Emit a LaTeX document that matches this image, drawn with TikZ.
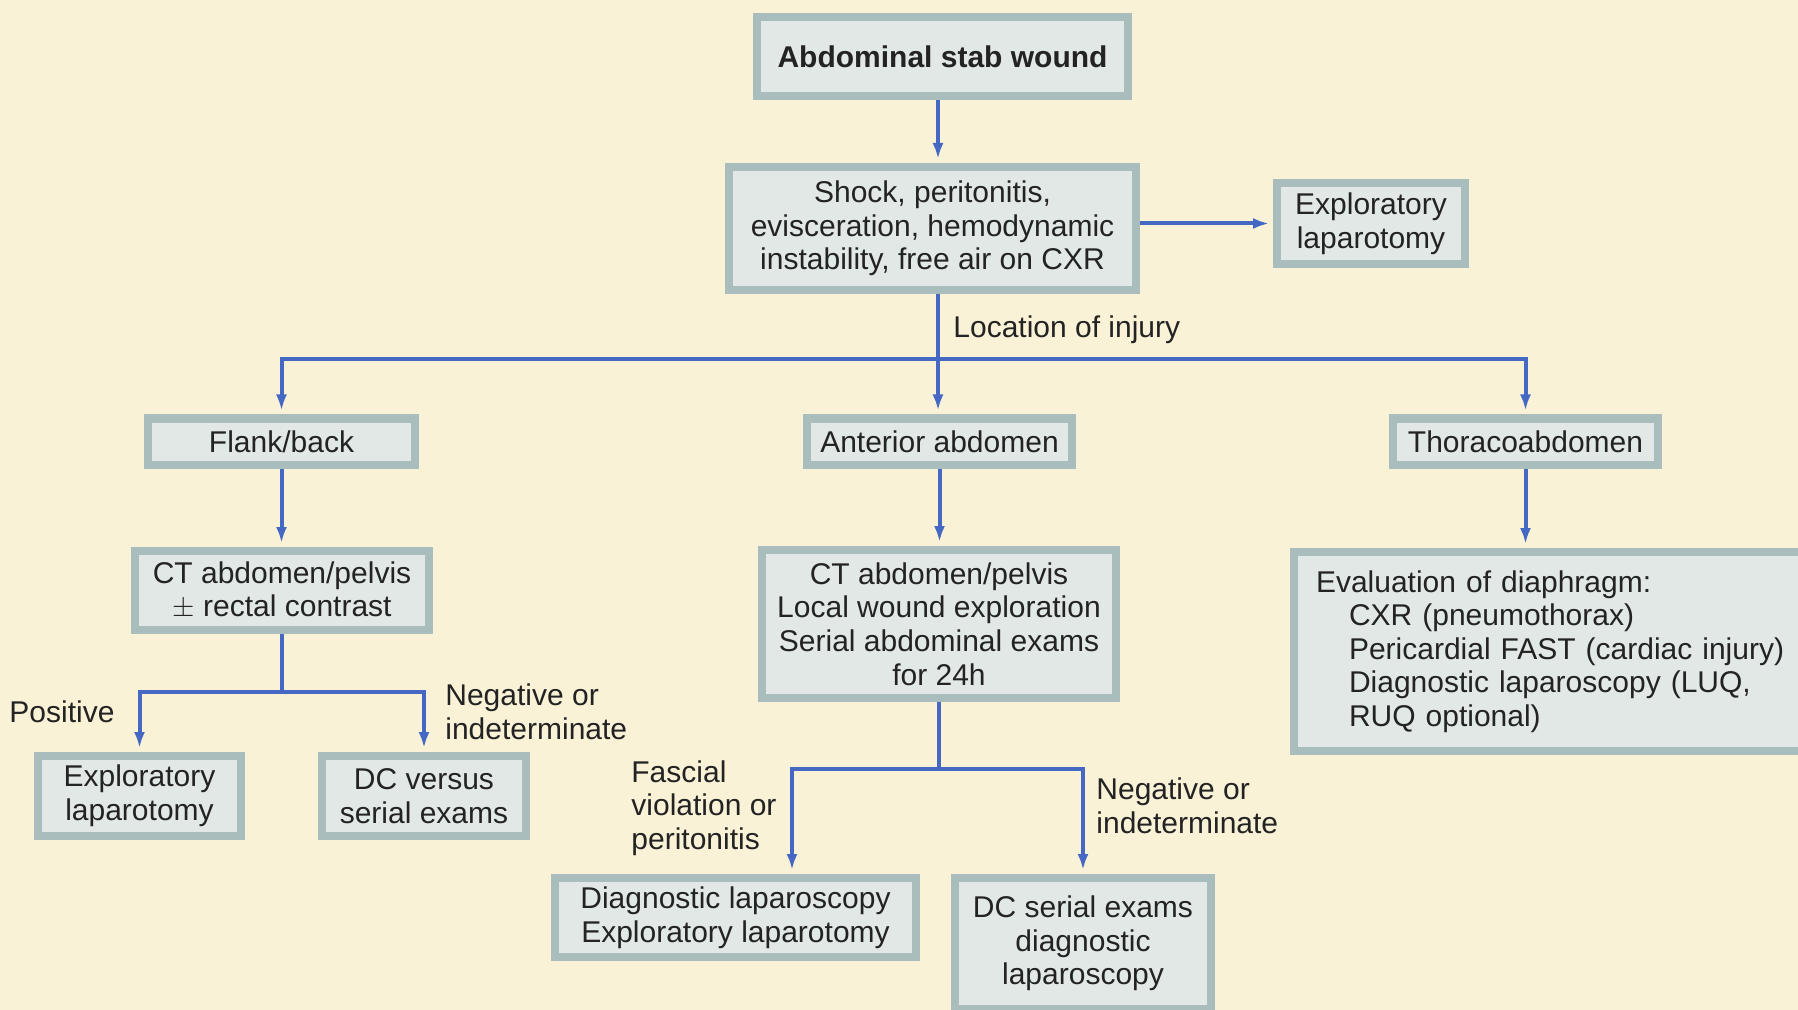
\documentclass[tikz,border=0pt]{standalone}
\usepackage{fontspec}
\setmainfont{Liberation Sans}
\usetikzlibrary{arrows.meta}
\definecolor{paper}{HTML}{FAF2D6}
\definecolor{boxfill}{HTML}{E2E8E6}
\definecolor{boxedge}{HTML}{A9BEBC}
\definecolor{flowblue}{HTML}{4468C4}
\definecolor{ink}{HTML}{232323}
\begin{document}
\begin{tikzpicture}[x=0.5pt,y=-0.5pt,
  font=\fontsize{15}{16.8}\selectfont,
  box/.style={draw=boxedge, line width=4pt, fill=boxfill, text=ink,
    align=center, inner sep=0pt},
  lbl/.style={text=ink, align=left, inner sep=0pt, anchor=west},
  link/.style={draw=flowblue, line width=2pt},
  flow/.style={link, -{Latex[length=8pt,width=5.5pt]}, shorten >=2pt}]

% page and background
\useasboundingbox (0,0) rectangle (1798,1010);
\fill[paper] (0,0) rectangle (1798,1010);

% boxes
\node[box, minimum width=185.5pt, minimum height=39.5pt, font=\fontsize{15}{16.8}\selectfont\bfseries]
  (top) at (942.5,56.5) {Abdominal stab wound};
\node[box, minimum width=203.5pt, minimum height=61.5pt]
  (shock) at (932.5,228.5) {Shock, peritonitis,\\evisceration, hemodynamic\\instability, free air on CXR};
\node[box, minimum width=94pt, minimum height=40.5pt]
  (exlapR) at (1371,223.5) {Exploratory\\laparotomy};

\node[box, minimum width=133.5pt, minimum height=23pt]
  (flank) at (281.5,441.5) {Flank/back};
\node[box, minimum width=132.5pt, minimum height=23pt]
  (anterior) at (939.5,441.5) {Anterior abdomen};
\node[box, minimum width=132.5pt, minimum height=23pt]
  (thoraco) at (1525.5,441.5) {Thoracoabdomen};

\node[box, minimum width=147pt, minimum height=39.5pt]
  (ctflank) at (282,590.5) {CT abdomen/pelvis\\$\pm$ rectal contrast};
\node[box, minimum width=177pt, minimum height=74pt]
  (ctant) at (939,624) {CT abdomen/pelvis\\Local wound exploration\\Serial abdominal exams\\for 24h};
\node[box, anchor=west, text width=240pt, inner xsep=11pt, minimum height=99.5pt, align=left]
  (eval) at (1290,651.5) {Evaluation of diaphragm:\\
    \hspace*{16.5pt}CXR (pneumothorax)\\
    \hspace*{16.5pt}Pericardial FAST (cardiac injury)\\
    \hspace*{16.5pt}Diagnostic laparoscopy (LUQ,\\
    \hspace*{16.5pt}RUQ optional)};

\node[box, minimum width=101.5pt, minimum height=40pt]
  (exlapL) at (139.5,796) {Exploratory\\laparotomy};
\node[box, minimum width=102pt, minimum height=40pt]
  (dcvs) at (424,796) {DC versus\\serial exams};

\node[box, minimum width=180.5pt, minimum height=39.5pt]
  (diaglap) at (735.5,917.5) {Diagnostic laparoscopy\\Exploratory laparotomy};
\node[box, minimum width=128pt, minimum height=65.5pt]
  (dcserial) at (1083,943.5) {DC serial exams\\diagnostic\\laparoscopy};

% labels
\node[lbl] (loc) at (953,330) {Location of injury};
\node[lbl] (pos) at (9,712) {Positive};
\node[lbl] (negL) at (445,712) {Negative or\\indeterminate};
\node[lbl] (fasc) at (631,808) {Fascial\\violation or\\peritonitis};
\node[lbl] (negR) at (1096,806) {Negative or\\indeterminate};

% connectors
\coordinate (trunk) at (938,0);
\coordinate (split) at (938,359);
\coordinate (forkL) at (282,692);
\coordinate (forkR) at (939,769);
\coordinate (dlx) at (792,0);

\draw[flow] (top.south -| trunk) -- (shock.north -| trunk);
\draw[flow] (shock.east |- exlapR.west) -- (exlapR.west);
\draw[flow] (shock.south -| trunk) -- (anterior.north -| trunk);
\draw[flow] (split) -| (flank.north);
\draw[flow] (split) -| (thoraco.north);

\draw[flow] (flank.south) -- (ctflank.north -| flank.south);
\draw[flow] (anterior.south) -- (ctant.north -| anterior.south);
\draw[flow] (thoraco.south) -- (eval.north -| thoraco.south);

\draw[link] (ctflank.south) -- (forkL);
\draw[flow] (forkL) -| (exlapL.north);
\draw[flow] (forkL) -| (dcvs.north);

\draw[link] (ctant.south) -- (forkR);
\draw[flow] (forkR) -| (diaglap.north -| dlx);
\draw[flow] (forkR) -| (dcserial.north);
\end{tikzpicture}
\end{document}
